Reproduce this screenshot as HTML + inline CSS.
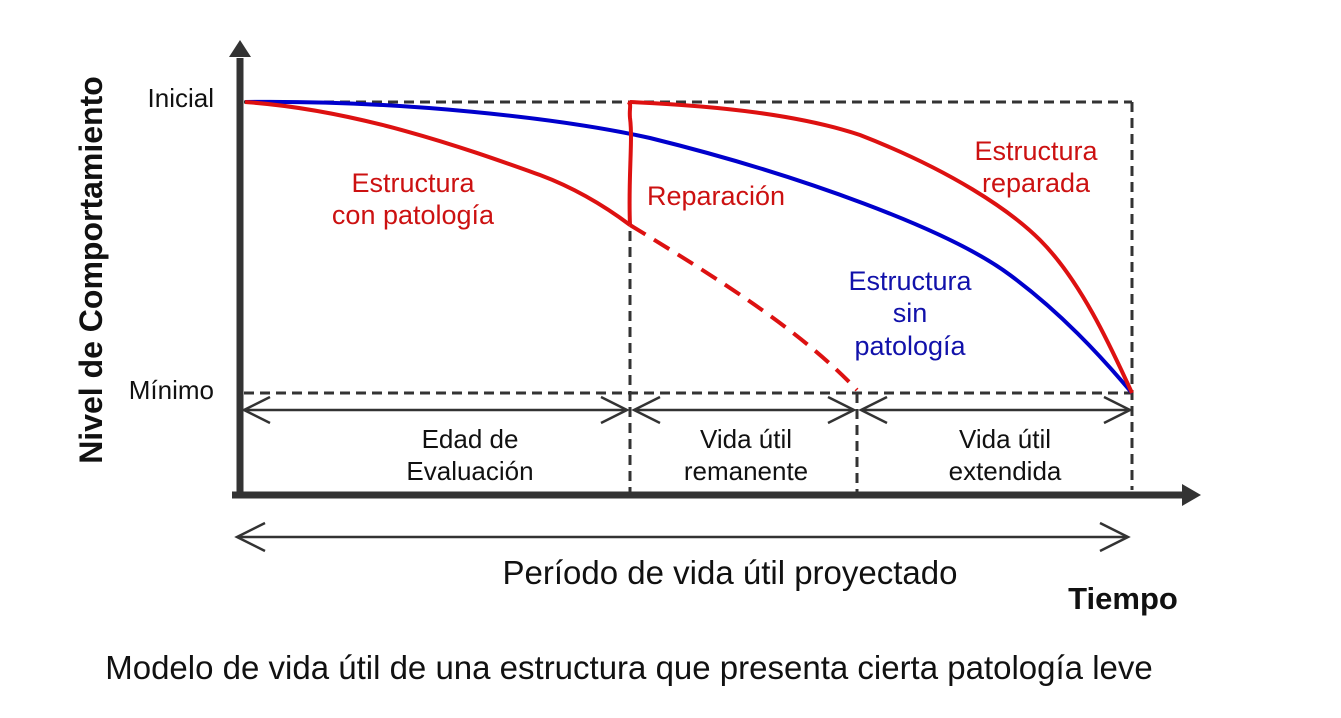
<!DOCTYPE html>
<html><head><meta charset="utf-8"><style>
html,body{margin:0;padding:0;background:#fff;}
svg{display:block;}
text{font-family:"Liberation Sans",Arial,sans-serif;}
</style></head><body>
<svg width="1341" height="718" viewBox="0 0 1341 718" xmlns="http://www.w3.org/2000/svg">
<g stroke="#333" stroke-width="3" stroke-dasharray="10,6" fill="none">
<line x1="244" y1="102" x2="1132" y2="102"/>
<line x1="1132" y1="102" x2="1132" y2="490"/>
<line x1="244" y1="393" x2="1132" y2="393"/>
<line x1="630" y1="215" x2="630" y2="492"/>
<line x1="857" y1="393" x2="857" y2="492"/>
</g>
<g stroke="#333" stroke-width="2.5" fill="none">
<line x1="244" y1="410" x2="627" y2="410"/>
<polyline points="270,397 244,410 270,423"/><polyline points="601,397 627,410 601,423"/>
<line x1="634" y1="410" x2="854" y2="410"/>
<polyline points="660,397 634,410 660,423"/><polyline points="828,397 854,410 828,423"/>
<line x1="861" y1="410" x2="1130" y2="410"/>
<polyline points="887,397 861,410 887,423"/><polyline points="1104,397 1130,410 1104,423"/>
<line x1="237" y1="537" x2="1128" y2="537"/>
<polyline points="265,523 237,537 265,551"/><polyline points="1100,523 1128,537 1100,551"/>
</g>
<line x1="240" y1="58" x2="240" y2="498" stroke="#333" stroke-width="7"/>
<polygon points="240,40 229,57 251,57" fill="#333"/>
<line x1="232" y1="495" x2="1185" y2="495" stroke="#333" stroke-width="7"/>
<polygon points="1201,495 1182,484 1182,506" fill="#333"/>
<path d="M245,102 C400,100 560,118 650,138 C800,175 950,230 1010,275 C1060,312 1100,355 1132,393" stroke="#0000cc" stroke-width="4" fill="none"/>
<path d="M245,102 C360,110 470,150 540,175 C580,190 610,210 630,225" stroke="#dd1111" stroke-width="4" fill="none"/>
<path d="M630,225 C720,280 800,330 857,390" stroke="#dd1111" stroke-width="4" stroke-dasharray="18,10" fill="none"/>
<path d="M630,225 C628,180 633,140 630,118 C629,108 632,104 628,102" stroke="#dd1111" stroke-width="4" fill="none"/>
<path d="M630,102 C720,106 800,115 860,135 C950,170 1010,210 1040,240 C1080,280 1110,345 1132,393" stroke="#dd1111" stroke-width="4" fill="none"/>
<g font-size="26" fill="#111">
<text x="214" y="107" text-anchor="end">Inicial</text>
<text x="214" y="399" text-anchor="end">Mínimo</text>
<text x="470" y="448" text-anchor="middle">Edad de</text>
<text x="470" y="480" text-anchor="middle">Evaluación</text>
<text x="746" y="448" text-anchor="middle">Vida útil</text>
<text x="746" y="480" text-anchor="middle">remanente</text>
<text x="1005" y="448" text-anchor="middle">Vida útil</text>
<text x="1005" y="480" text-anchor="middle">extendida</text>
<text x="730" y="584" text-anchor="middle" font-size="33">Período de vida útil proyectado</text>
<text x="629" y="679" text-anchor="middle" font-size="33">Modelo de vida útil de una estructura que presenta cierta patología leve</text>
</g>
<g font-size="27" fill="#cc1111">
<text x="413" y="192" text-anchor="middle">Estructura</text>
<text x="413" y="224" text-anchor="middle">con patología</text>
<text x="716" y="205" text-anchor="middle">Reparación</text>
<text x="1036" y="160" text-anchor="middle">Estructura</text>
<text x="1036" y="192" text-anchor="middle">reparada</text>
</g>
<g font-size="27" fill="#1111aa">
<text x="910" y="290" text-anchor="middle">Estructura</text>
<text x="910" y="322" text-anchor="middle">sin</text>
<text x="910" y="355" text-anchor="middle">patología</text>
</g>
<text x="1123" y="609" text-anchor="middle" font-size="31" font-weight="bold" fill="#111">Tiempo</text>
<text transform="translate(102,270) rotate(-90)" text-anchor="middle" font-size="32" font-weight="bold" fill="#111">Nivel de Comportamiento</text>
</svg>
</body></html>
